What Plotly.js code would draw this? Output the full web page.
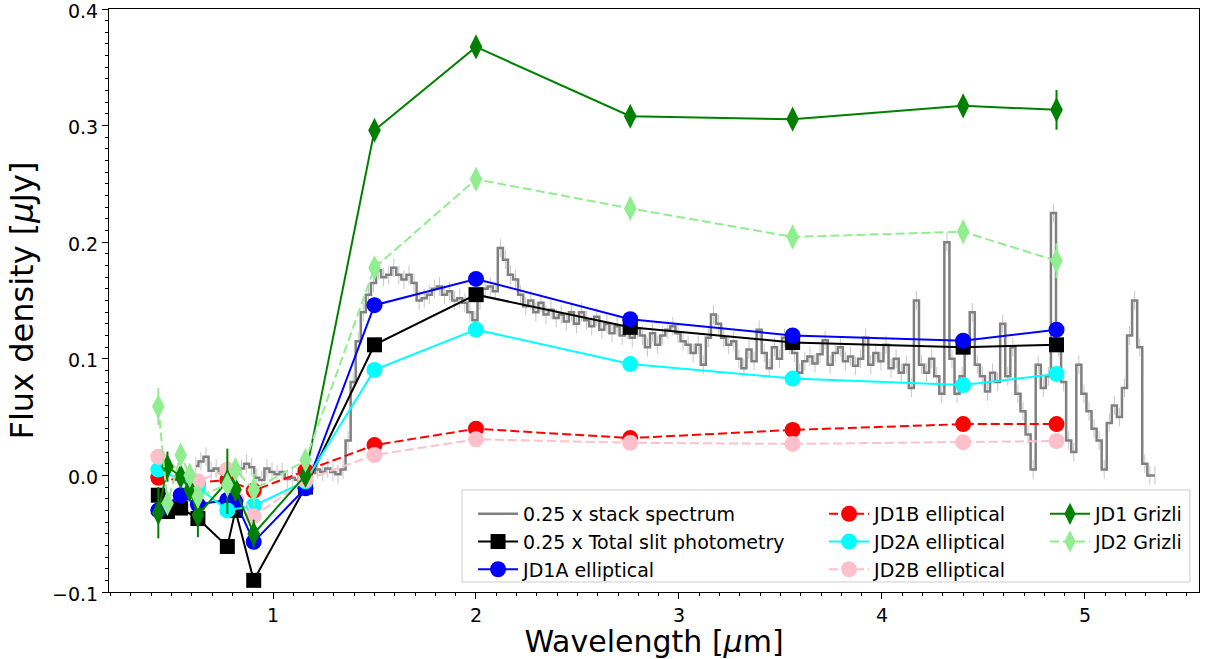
<!DOCTYPE html>
<html>
<head>
<meta charset="utf-8">
<script src="https://cdn.plot.ly/plotly-3.0.1.min.js"></script>
<style>html,body{margin:0;padding:0;background:#fff;}#chart{width:1207px;height:659px;}</style>
</head>
<body>
<div id="chart"></div>
<script>
// ---- stacked spectrum (0.25 x) ----
const specWave = [
0.620,0.645,0.670,0.695,0.720,0.745,0.770,0.795,0.820,0.845,
0.870,0.895,0.920,0.945,0.970,0.995,1.020,1.045,1.070,1.095,
1.120,1.145,1.170,1.195,1.220,1.245,1.270,1.295,1.320,1.345,
1.370,1.395,1.420,1.445,1.470,1.495,1.520,1.545,1.570,1.595,
1.620,1.645,1.670,1.695,1.720,1.745,1.770,1.795,1.820,1.845,
1.870,1.895,1.920,1.945,1.970,1.995,2.020,2.045,2.070,2.095,
2.120,2.145,2.170,2.195,2.220,2.245,2.270,2.295,2.320,2.345,
2.370,2.395,2.420,2.445,2.470,2.495,2.520,2.545,2.570,2.595,
2.620,2.645,2.670,2.695,2.720,2.745,2.770,2.795,2.820,2.845,
2.870,2.895,2.920,2.945,2.970,2.995,3.020,3.045,3.070,3.095,
3.120,3.145,3.170,3.195,3.220,3.245,3.270,3.295,3.320,3.345,
3.370,3.395,3.420,3.445,3.470,3.495,3.520,3.545,3.570,3.595,
3.620,3.645,3.670,3.695,3.720,3.745,3.770,3.795,3.820,3.845,
3.870,3.895,3.920,3.945,3.970,3.995,4.020,4.045,4.070,4.095,
4.120,4.145,4.170,4.195,4.220,4.245,4.270,4.295,4.320,4.345,
4.370,4.395,4.420,4.445,4.470,4.495,4.520,4.545,4.570,4.595,
4.620,4.645,4.670,4.695,4.720,4.745,4.770,4.795,4.820,4.845,
4.870,4.895,4.920,4.945,4.970,4.995,5.020,5.045,5.070,5.095,
5.120,5.145,5.170,5.195,5.220,5.245,5.270,5.295,5.320,5.345];
const specFlux = [
0.008,0.012,0.016,0.004,0.006,0.002,0.004,0.000,0.002,0.006,
0.010,0.007,-0.002,-0.004,0.006,0.003,0.001,0.003,-0.003,-0.002,
-0.004,0.000,-0.002,0.002,0.005,0.003,0.006,0.003,0.001,0.005,
0.030,0.080,0.115,0.140,0.155,0.165,0.176,0.170,0.172,0.178,
0.172,0.168,0.172,0.165,0.150,0.152,0.155,0.160,0.162,0.155,
0.158,0.150,0.152,0.148,0.140,0.133,0.150,0.160,0.162,0.158,
0.195,0.185,0.172,0.168,0.155,0.145,0.150,0.140,0.148,0.138,
0.142,0.135,0.138,0.132,0.140,0.130,0.140,0.133,0.128,0.136,
0.125,0.130,0.122,0.128,0.120,0.125,0.118,0.126,0.120,0.110,
0.122,0.112,0.120,0.125,0.128,0.122,0.115,0.112,0.105,0.112,
0.095,0.118,0.138,0.130,0.118,0.112,0.115,0.100,0.092,0.108,
0.098,0.125,0.105,0.092,0.110,0.100,0.118,0.112,0.105,0.088,
0.098,0.102,0.096,0.104,0.116,0.095,0.105,0.110,0.098,0.102,
0.094,0.100,0.118,0.095,0.105,0.098,0.112,0.092,0.100,0.088,
0.095,0.075,0.150,0.095,0.088,0.100,0.085,0.070,0.200,0.100,
0.070,0.085,0.110,0.140,0.095,0.085,0.072,0.088,0.080,0.130,
0.085,0.110,0.070,0.055,0.035,0.005,0.095,0.075,0.085,0.225,
0.110,0.080,0.030,0.020,0.095,0.070,0.055,0.040,0.030,0.005,
0.045,0.060,0.050,0.075,0.120,0.150,0.110,0.010,0.000,0.000];
const specErr = 0.008;

// ---- photometry ----
const wTotal = [0.435,0.48,0.545,0.63,0.775,0.815,0.905,1.16,1.5,2.0,2.76,3.56,4.4,4.86];
const fTotal = [-0.017,-0.031,-0.028,-0.037,-0.061,-0.030,-0.090,-0.010,0.112,0.155,0.127,0.114,0.110,0.112];

const wJD1A = [0.435,0.545,0.63,0.775,0.815,0.905,1.16,1.5,2.0,2.76,3.56,4.4,4.86];
const fJD1A = [-0.030,-0.017,-0.025,-0.021,-0.022,-0.057,-0.011,0.146,0.1685,0.134,0.120,0.1155,0.125];

const wJD1B = [0.435,0.63,0.775,0.905,1.16,1.5,2.0,2.76,3.56,4.4,4.86];
const fJD1B = [-0.002,-0.006,-0.004,-0.013,0.004,0.026,0.040,0.032,0.039,0.044,0.044];

const wJD2A = [0.435,0.63,0.775,0.905,1.16,1.5,2.0,2.76,3.56,4.4,4.86];
const fJD2A = [0.005,-0.010,-0.030,-0.026,-0.005,0.0905,0.125,0.0955,0.083,0.0775,0.087];

const wJD2B = [0.435,0.63,0.775,0.905,1.16,1.5,2.0,2.76,3.56,4.4,4.86];
const fJD2B = [0.016,-0.005,0.005,-0.035,-0.004,0.0175,0.031,0.028,0.027,0.0285,0.0295];

const wGrizli = [0.435,0.48,0.545,0.59,0.63,0.775,0.815,0.905,1.16,1.5,2.0,2.76,3.56,4.4,4.86];
const fJD1G = [-0.032,0.0075,-0.001,-0.012,-0.034,-0.005,-0.012,-0.050,0.000,0.296,0.3675,0.308,0.3055,0.317,0.3135];
const eJD1G = [0.022,0.013,0.008,0.006,0.019,0.028,0.010,0.012,0.004,0.005,0.005,0.004,0.004,0.005,0.017];
const fJD2G = [0.059,-0.024,0.0175,0.000,-0.018,-0.008,0.005,-0.0125,0.013,0.178,0.254,0.229,0.2045,0.209,0.184];
const eJD2G = [0.016,0.008,0.006,0.005,0.008,0.006,0.006,0.014,0.004,0.004,0.004,0.004,0.004,0.005,0.015];

const names = ['0.25 x stack spectrum','0.25 x Total slit photometry','JD1A elliptical',
  'JD1B elliptical','JD2A elliptical','JD2B elliptical','JD1 Grizli','JD2 Grizli'];

const FONT = 'DejaVu Sans, Arial, sans-serif';
const DASH = '9px,4px';

function phot(x, y, name, color, symbol, size, dash, legend, err) {
  const t = {
    x: x, y: y, name: name, type: 'scatter', mode: 'lines+markers',
    line: {color: color, width: 2, dash: dash},
    marker: {color: color, symbol: symbol, size: size, line: {width: 0}},
    legend: legend
  };
  if (err) {
    t.error_y = {type: 'data', array: err, visible: true, color: color, thickness: 2, width: 0};
  }
  return t;
}

const traces = [
  {x: specWave, y: specFlux, name: names[0], type: 'scatter', mode: 'lines',
   line: {color: '#808080', width: 2.5, shape: 'hvh'},
   error_y: {type: 'constant', value: specErr, color: 'rgba(128,128,128,0.45)', thickness: 1, width: 0},
   legend: 'legend'},
  phot(wTotal, fTotal, names[1], '#000000', 'square', 15, 'solid', 'legend'),
  phot(wJD1A, fJD1A, names[2], '#0000ff', 'circle', 16, 'solid', 'legend'),
  phot(wJD1B, fJD1B, names[3], '#ff0000', 'circle', 16, DASH, 'legend2'),
  phot(wJD2A, fJD2A, names[4], '#00ffff', 'circle', 16, 'solid', 'legend2'),
  phot(wJD2B, fJD2B, names[5], '#ffc0cb', 'circle', 16, DASH, 'legend2'),
  phot(wGrizli, fJD1G, names[6], '#008000', 'diamond-tall', 18, 'solid', 'legend3', eJD1G),
  phot(wGrizli, fJD2G, names[7], '#90ee90', 'diamond-tall', 18, DASH, 'legend3', eJD2G)
];

function leg(x) {
  return {x: x, y: 0.1664, xanchor: 'left', yanchor: 'top', orientation: 'v',
    bgcolor: 'rgba(0,0,0,0)', borderwidth: 0, tracegroupgap: 0,
    font: {family: FONT, size: 19, color: '#000'}, itemwidth: 40};
}

const layout = {
  width: 1207, height: 659,
  margin: {l: 109, r: 8, t: 9, b: 67},
  paper_bgcolor: '#ffffff', plot_bgcolor: '#ffffff',
  font: {family: FONT, color: '#000'},
  showlegend: true,
  legend: leg(0.334),
  legend2: leg(0.656),
  legend3: leg(0.8587),
  xaxis: {
    range: [0.192, 5.562], tick0: 0, dtick: 1, tickformat: 'd',
    ticks: 'outside', ticklen: 6, tickwidth: 1, tickcolor: '#000',
    showline: true, linecolor: '#000', linewidth: 1, mirror: true,
    showgrid: false, zeroline: false, ticklabeloverflow: 'allow',
    tickfont: {family: FONT, size: 19, color: '#000'},
    minor: {dtick: 0.1, ticks: 'outside', ticklen: 3, tickcolor: '#000', showgrid: false},
    title: {text: 'Wavelength [<i>μ</i>m]', font: {family: FONT, size: 30, color: '#000'}, standoff: 12}
  },
  yaxis: {
    range: [-0.1, 0.4], tick0: 0, dtick: 0.1, tickformat: '.1f',
    ticks: 'outside', ticklen: 6, tickwidth: 1, tickcolor: '#000',
    showline: true, linecolor: '#000', linewidth: 1, mirror: true,
    showgrid: false, zeroline: false, ticklabeloverflow: 'allow', ticklabelshift: 2,
    tickfont: {family: FONT, size: 19, color: '#000'},
    minor: {dtick: 0.01, ticks: 'outside', ticklen: 3, tickcolor: '#000', showgrid: false},
    title: {text: 'Flux density [<i>μ</i>Jy]', font: {family: FONT, size: 32, color: '#000'}, standoff: 8}
  },
  shapes: [{
    type: 'rect', xref: 'paper', yref: 'paper', layer: 'above',
    x0: 0.3239, x1: 0.9917, y0: 0.0172, y1: 0.175,
    fillcolor: 'rgba(255,255,255,0.9)', line: {color: '#cccccc', width: 1}
  }]
};

Plotly.newPlot('chart', traces, layout, {staticPlot: true, displayModeBar: false});
</script>
</body>
</html>
